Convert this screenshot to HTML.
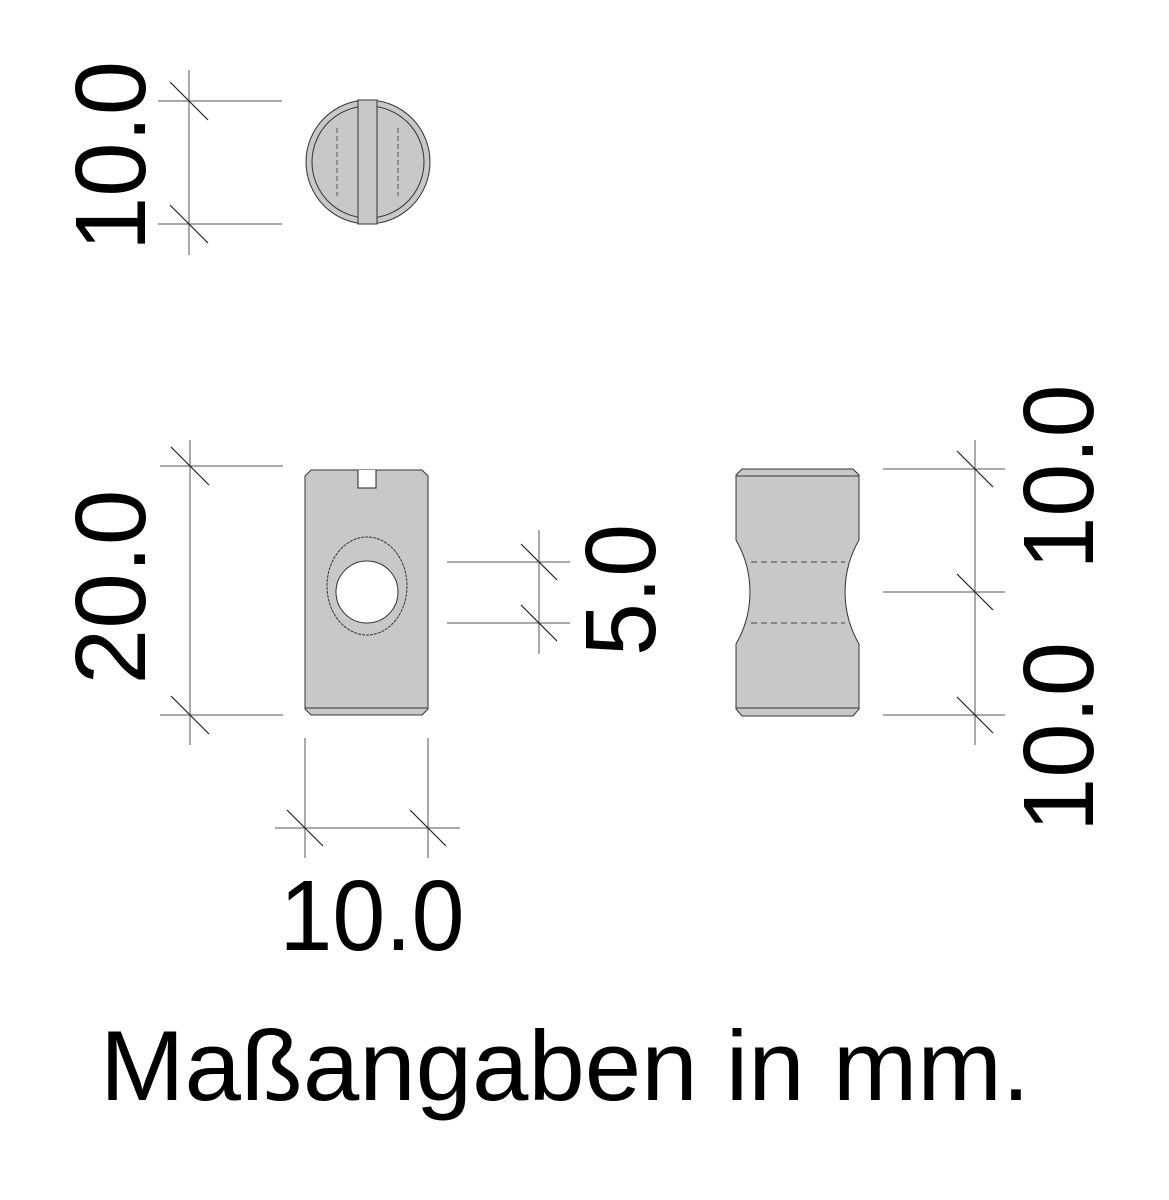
<!DOCTYPE html>
<html><head><meta charset="utf-8"><style>html,body{margin:0;padding:0;background:#fff}svg{display:block}</style></head>
<body>
<svg width="1169" height="1200" viewBox="0 0 1169 1200" xmlns="http://www.w3.org/2000/svg" font-family="Liberation Sans, Arial, sans-serif">
<rect width="1169" height="1200" fill="#fff"/>
<g stroke="#555" stroke-width="1" fill="none">
<line x1="189" y1="70" x2="189" y2="255"/>
<line x1="158" y1="101" x2="282" y2="101"/>
<line x1="158" y1="224" x2="282" y2="224"/>
<line x1="190" y1="440" x2="190" y2="745"/>
<line x1="160" y1="466" x2="283" y2="466"/>
<line x1="160" y1="715" x2="283" y2="715"/>
<line x1="539" y1="530" x2="539" y2="654"/>
<line x1="447" y1="562" x2="570" y2="562"/>
<line x1="447" y1="623" x2="570" y2="623"/>
<line x1="275" y1="828" x2="460" y2="828"/>
<line x1="305" y1="738" x2="305" y2="858"/>
<line x1="428" y1="738" x2="428" y2="858"/>
<line x1="975" y1="440" x2="975" y2="745"/>
<line x1="883" y1="469" x2="1005" y2="469"/>
<line x1="883" y1="592" x2="1005" y2="592"/>
<line x1="883" y1="715" x2="1005" y2="715"/>
</g>
<g stroke="#222" stroke-width="1.2">
<line x1="170" y1="82" x2="208" y2="120"/>
<line x1="170" y1="205" x2="208" y2="243"/>
<line x1="171" y1="447" x2="209" y2="485"/>
<line x1="171" y1="696" x2="209" y2="734"/>
<line x1="521" y1="544" x2="557" y2="580"/>
<line x1="521" y1="605" x2="557" y2="641"/>
<line x1="287" y1="810" x2="323" y2="846"/>
<line x1="410" y1="810" x2="446" y2="846"/>
<line x1="957" y1="451" x2="993" y2="487"/>
<line x1="957" y1="574" x2="993" y2="610"/>
<line x1="957" y1="697" x2="993" y2="733"/>
</g>
<circle cx="368" cy="162" r="62" fill="#c8c8c8" stroke="#333" stroke-width="1"/>
<circle cx="368" cy="162" r="56" fill="none" stroke="#333" stroke-width="1"/>
<rect x="358" y="100" width="19" height="124" fill="#c8c8c8" stroke="#333" stroke-width="1"/>
<g stroke="#555" stroke-dasharray="5,3" fill="none">
<line x1="337" y1="128" x2="337" y2="196"/>
<line x1="398" y1="128" x2="398" y2="196"/>
</g>
<path d="M311,470 L422,470 L428,476 L428,709 L422,715 L311,715 L305,709 L305,476 Z" fill="#c8c8c8" stroke="#333" stroke-width="1"/>
<line x1="305" y1="708" x2="428" y2="708" stroke="#333"/>
<path d="M358,470 L358,488 L376,488 L376,470" fill="#fff" stroke="#222" stroke-width="1"/>
<ellipse cx="367" cy="586" rx="40" ry="49" fill="#c8c8c8" stroke="#333" stroke-dasharray="3,1"/>
<circle cx="367" cy="592" r="31" fill="#fff" stroke="#333"/>
<path d="M742,469 L853,469 L859,475 L859,540 A104,104 0 0 0 859,644 L859,709 L853,716 L742,716 L736,709 L736,644 A104,104 0 0 0 736,540 L736,475 Z" fill="#c8c8c8" stroke="#333" stroke-width="1"/>
<line x1="736" y1="476" x2="859" y2="476" stroke="#333"/>
<line x1="736" y1="708" x2="859" y2="708" stroke="#333"/>
<g stroke="#444" stroke-dasharray="6,4"><line x1="751" y1="562" x2="845" y2="562"/><line x1="751" y1="623" x2="845" y2="623"/></g>
<g fill="#000" font-size="100">
<text transform="translate(145,156) rotate(-90)" text-anchor="middle" textLength="190" lengthAdjust="spacingAndGlyphs">10.0</text>
<text transform="translate(145,587) rotate(-90)" text-anchor="middle" textLength="195" lengthAdjust="spacingAndGlyphs">20.0</text>
<text transform="translate(655,590) rotate(-90)" text-anchor="middle" textLength="132" lengthAdjust="spacingAndGlyphs">5.0</text>
<text transform="translate(1093,477) rotate(-90)" text-anchor="middle" textLength="185" lengthAdjust="spacingAndGlyphs">10.0</text>
<text transform="translate(1093,737) rotate(-90)" text-anchor="middle" textLength="190" lengthAdjust="spacingAndGlyphs">10.0</text>
<text x="372" y="950" text-anchor="middle" textLength="185" lengthAdjust="spacingAndGlyphs">10.0</text>
<text x="100" y="1100" font-size="99" textLength="930" lengthAdjust="spacingAndGlyphs">Maßangaben in mm.</text>
</g>
</svg>
</body></html>
